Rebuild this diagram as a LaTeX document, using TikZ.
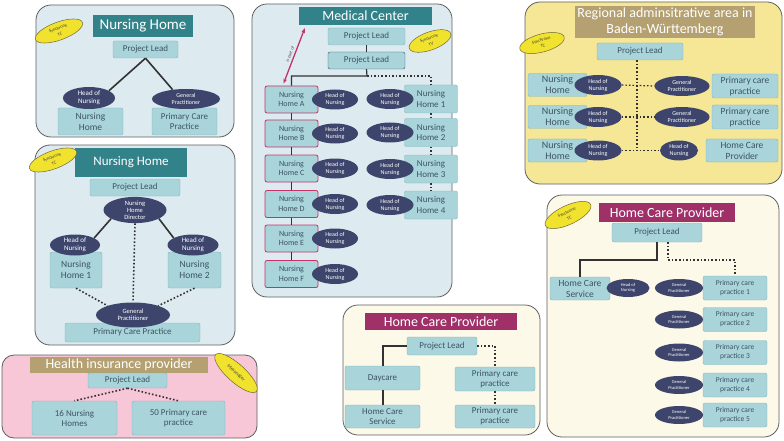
\documentclass[tikz,border=0pt]{standalone}
\usepackage{fontspec}
\setmainfont{Carlito}
\usetikzlibrary{shapes.geometric,arrows.meta}

\definecolor{panelblue}{RGB}{221,235,240}
\definecolor{pinkpanel}{RGB}{247,198,215}
\definecolor{yellowpanel}{RGB}{246,231,150}
\definecolor{creampanel}{RGB}{252,249,233}
\definecolor{panelline}{RGB}{95,95,95}
\definecolor{unitfill}{RGB}{168,212,218}
\definecolor{unitline}{RGB}{128,182,192}
\definecolor{unittext}{RGB}{62,84,100}
\definecolor{headfill}{RGB}{62,69,108}
\definecolor{tealbar}{RGB}{50,130,138}
\definecolor{tanbar}{RGB}{180,160,112}
\definecolor{magentabar}{RGB}{160,48,104}
\definecolor{syncfill}{RGB}{241,226,45}
\definecolor{syncline}{RGB}{110,104,60}
\definecolor{linkgray}{RGB}{50,50,50}
\definecolor{rosered}{RGB}{196,52,104}

\newcommand{\fsz}[2]{\fontsize{#1}{#2}\selectfont}

\begin{document}
\begin{tikzpicture}[x = 1pt, y = -1pt,
	panel/.style = {draw = panelline, line width = 0.8pt, rounded corners = 15pt},
	unitbox/.style = {draw = unitline, fill = unitfill, text = unittext, rounded corners = 2pt, align = center, inner sep = 0pt, font = \fsz{9}{10}},
	headoval/.style = {ellipse, fill = headfill, text = white, align = center, inner sep = 0pt, font = \fsz{6}{7}},
	titlebar/.style = {text = white, inner sep = 0pt, align = center, font = \fsz{14}{16}},
	syncoval/.style = {ellipse, draw = syncline, line width = 0.5pt, fill = syncfill, text = black!75, align = center, inner sep = 0pt, font = \fsz{4.5}{6}},
	solidlink/.style = {draw = linkgray, line width = 1.6pt},
	dotlink/.style = {draw = linkgray, line width = 1.6pt, dotted},
	partof/.style = {draw = rosered, line width = 1.3pt, {Stealth[length = 5pt]}-{Stealth[length = 5pt]}}]

	\fill[white] (0,0) rectangle (784,441);
	\useasboundingbox (0,0) rectangle (784,441);

	% Nursing Home (top)
	\draw[panel, fill = panelblue] (36,5) rectangle (234,137);
	\node[titlebar, fill = tealbar, minimum width = 100, minimum height = 22, font = \fsz{15}{16}] (nhTitle) at (143,26) {Nursing Home};
	\node[syncoval, minimum width = 50, minimum height = 18, rotate = 20] (nhSync) at (59,31) {Synchrone\\TC};
	\node[unitbox, minimum width = 65, minimum height = 17] (nhLead) at (145.5,49.5) {Project Lead};
	\node[unitbox, minimum width = 65, minimum height = 27, font = \fsz{9.5}{11}] (nhHome) at (90.5,121.5) {Nursing\\Home};
	\node[headoval, minimum width = 52, minimum height = 22, font = \fsz{7}{8}] (nhHead) at (89,98) {Head of\\Nursing};
	\node[unitbox, minimum width = 65, minimum height = 27] (nhPractice) at (184.5,121.5) {Primary Care\\Practice};
	\node[headoval, minimum width = 68, minimum height = 20] (nhGP) at (186,99) {General\\Practitioner};
	\draw[solidlink] (nhLead.south) -- (nhHead.20);
	\draw[solidlink] (nhLead.south) -- (nhGP.145);

	% Nursing Home (below)
	\draw[panel, fill = panelblue] (35,145) rectangle (235,345);
	\node[titlebar, fill = tealbar, minimum width = 112, minimum height = 29, font = \fsz{13}{15}] (ndTitle) at (131,162.5) {Nursing Home};
	\node[syncoval, minimum width = 50, minimum height = 18, rotate = 20] (ndSync) at (53,160) {Synchrone\\TC};
	\node[unitbox, minimum width = 90, minimum height = 17] (ndLead) at (135,187.5) {Project Lead};
	\node[headoval, minimum width = 63, minimum height = 26, font = \fsz{6.5}{7}] (ndDirector) at (135,210) {Nursing\\Home\\Director};
	\node[unitbox, minimum width = 52, minimum height = 36, font = \fsz{9.5}{11}] (ndHome1) at (76,270) {Nursing\\Home 1};
	\node[headoval, minimum width = 50, minimum height = 21, font = \fsz{7}{8}] (ndHead1) at (75,245) {Head of\\Nursing};
	\node[unitbox, minimum width = 53, minimum height = 36, font = \fsz{9.5}{11}] (ndHome2) at (194.5,270) {Nursing\\Home 2};
	\node[headoval, minimum width = 51, minimum height = 21, font = \fsz{7}{8}] (ndHead2) at (193,245) {Head of\\Nursing};
	\node[unitbox, minimum width = 135, minimum height = 19] (ndPractice) at (132.5,332.5) {Primary Care Practice};
	\node[headoval, minimum width = 74, minimum height = 25, font = \fsz{6.5}{7.5}] (ndGP) at (133,315) {General\\Practitioner};
	\draw[solidlink] (ndDirector.200) -- (ndHead1.20);
	\draw[solidlink] (ndDirector.340) -- (ndHead2.160);
	\draw[dotlink] (ndDirector.south) -- (ndGP.north);
	\draw[dotlink] (ndHome1.south) -- (ndGP.160);
	\draw[dotlink] (ndHome2.south) -- (ndGP.20);

	% Health insurance provider
	\draw[panel, fill = pinkpanel, rounded corners = 12pt] (2,355) rectangle (257,438);
	\node[titlebar, fill = tanbar, minimum width = 178, minimum height = 16] (hiTitle) at (119,365) {Health insurance provider};
	\node[syncoval, minimum width = 55, minimum height = 18, rotate = -42, font = \fsz{5}{6}] (hiSync) at (236,373) {Messenger};
	\node[unitbox, minimum width = 79, minimum height = 15] (hiLead) at (127.5,380.5) {Project Lead};
	\node[unitbox, minimum width = 85, minimum height = 34] (hiHomes) at (74.5,418) {16 Nursing\\Homes};
	\node[unitbox, minimum width = 93, minimum height = 34] (hiPractices) at (178.5,418) {50 Primary care\\practice};
	\draw[dotlink] (hiLead.south) -- (hiHomes.north);
	\draw[dotlink] (hiLead.south) -- (hiPractices.north);

	% Medical Center
	\draw[panel, fill = panelblue] (252,4) rectangle (452,297);
	\node[titlebar, fill = tealbar, minimum width = 133, minimum height = 18] (mcTitle) at (365.5,16) {Medical Center};
	\node[syncoval, minimum width = 44, minimum height = 18, rotate = 20] (mcSync) at (430,41) {Synchrone\\TV};
	\node[unitbox, minimum width = 77, minimum height = 17] (mcLead1) at (366.5,36.5) {Project Lead};
	\node[unitbox, draw = unittext, minimum width = 77, minimum height = 17] (mcLead2) at (366.5,60.5) {Project Lead};
	\coordinate (mcFork) at (367,76);
	\foreach \n/\y in {A/99.5, B/133.5, C/168.5, D/204, E/238.5, F/274} {
		\node[unitbox, draw = rosered, line width = 0.8pt, minimum width = 53, minimum height = 27, font = \fsz{8}{9.5}] (mcHome\n) at (291.5,\y) {Nursing\\Home \n};
		\node[headoval, minimum width = 46, minimum height = 20] (mcHead\n) at (335,\y) {Head of\\Nursing};
	}
	\foreach \n/\y in {1/99, 2/132.5, 3/169, 4/205} {
		\node[unitbox, minimum width = 53, minimum height = 28, font = \fsz{9}{10.5}] (mcUnit\n) at (431,\y) {Nursing\\Home \n};
		\node[headoval, minimum width = 47, minimum height = 20] (mcNurse\n) at (390,\y) {Head of\\Nursing};
	}
	\draw[solidlink, line width = 1.2pt] (mcLead1.south) -- (mcLead2.north);
	\draw[solidlink, line width = 1.2pt] (mcLead2.south) -- (mcFork) -| (mcHomeA.north);
	\draw[dotlink, line width = 1.2pt] (mcFork) -| (mcUnit1.north);
	\foreach \a/\b in {A/B, B/C, C/D, D/E, E/F}
		\draw[solidlink, line width = 1.2pt] (mcHome\a.south) -- (mcHome\b.north);
	\foreach \a/\b in {1/2, 2/3, 3/4}
		\draw[dotlink, line width = 1.2pt] (mcUnit\a.south) -- (mcUnit\b.north);
	\draw[partof] ([xshift = -8pt, yshift = 2pt]mcHomeA.north) -- ([xshift = 6pt, yshift = -3pt]mcTitle.south west)
		node[midway, sloped, above, inner sep = 1.5pt, text = black!70, font = \fsz{4.5}{5}] {is part of};

	% Regional administrative area
	\draw[panel, fill = yellowpanel] (525,2) rectangle (782,184);
	\node[titlebar, fill = tanbar, minimum width = 180, minimum height = 32] (rgTitle) at (665,22) {Regional adminsitrative area in\\Baden-Württemberg};
	\node[syncoval, minimum width = 46, minimum height = 18, rotate = 15] (rgSync) at (542,43) {Synchrone\\TC};
	\node[unitbox, minimum width = 86, minimum height = 17] (rgLead) at (640,51.5) {Project Lead};
	\foreach \i/\y in {1/85, 2/117, 3/150.5} {
		\node[unitbox, minimum width = 59, minimum height = 23, font = \fsz{10}{11}] (rgHome\i) at (557.5,\y) {Nursing\\Home};
		\node[headoval, minimum width = 47, minimum height = 20] (rgHead\i) at (598,\y) {Head of\\Nursing};
	}
	\foreach \i/\y in {1/86, 2/117} {
		\node[unitbox, minimum width = 66, minimum height = 24, font = \fsz{9.5}{11}] (rgPractice\i) at (745,\y) {Primary care\\practice};
		\node[headoval, minimum width = 55, minimum height = 20] (rgPartner\i) at (682,\y) {General\\Practitioner};
	}
	\node[unitbox, minimum width = 72, minimum height = 23, font = \fsz{9.5}{11}] (rgProvider) at (742,150.5) {Home Care\\Provider};
	\node[headoval, minimum width = 38, minimum height = 20] (rgPartner3) at (679,150.5) {Head of\\Nursing};
	\draw[dotlink, line width = 1.2pt] ([xshift = -3pt]rgLead.south) -- ([xshift = -3pt]rgLead.south |- rgHead3.east);
	\foreach \i in {1,2,3}
		\draw[dotlink, line width = 1.2pt] (rgHead\i.east) -- (rgPartner\i.west);

	% Home Care Provider (right)
	\draw[panel, fill = creampanel] (547,195) rectangle (779,437);
	\node[titlebar, fill = magentabar, minimum width = 136, minimum height = 19] (hcTitle) at (667,212.5) {Home Care Provider};
	\node[syncoval, minimum width = 50, minimum height = 19, rotate = 25] (hcSync) at (568,215) {Synchrone\\TC};
	\node[unitbox, minimum width = 90, minimum height = 19] (hcLead) at (657,232.5) {Project Lead};
	\node[unitbox, minimum width = 60, minimum height = 23, font = \fsz{9.5}{11}] (hcService) at (580,288.5) {Home Care\\Service};
	\node[headoval, minimum width = 43, minimum height = 18, font = \fsz{4.5}{5.5}] (hcHead) at (628,288) {Head of\\Nursing};
	\foreach \i/\y in {1/288, 2/319.5, 3/352.5, 4/385, 5/415} {
		\node[unitbox, minimum width = 64, minimum height = 24, font = \fsz{7.5}{9}] (hcPractice\i) at (735,\y) {Primary care\\practice \i};
		\node[headoval, minimum width = 48, minimum height = 18, font = \fsz{4.5}{5.5}] (hcGP\i) at (679,\y) {General\\Practitioner};
	}
	\coordinate (hcFork) at (657,260);
	\coordinate (hcDotFork) at (668,260);
	\draw[solidlink, line width = 2pt] (hcLead.south) -- (hcFork) -| (hcService.north);
	\draw[dotlink, line width = 2pt] ([xshift = 11pt]hcLead.south) -- (hcDotFork) -| (hcPractice1.north);

	% Home Care Provider (middle)
	\draw[panel, fill = creampanel] (343,305) rectangle (540,435);
	\node[titlebar, fill = magentabar, minimum width = 152, minimum height = 17] (dcTitle) at (441,321.5) {Home Care Provider};
	\node[unitbox, minimum width = 70, minimum height = 18] (dcLead) at (442,346) {Project Lead};
	\node[unitbox, minimum width = 75, minimum height = 24] (dcDay) at (382.5,378) {Daycare};
	\node[unitbox, minimum width = 75, minimum height = 23] (dcService) at (382.5,416.5) {Home Care\\Service};
	\node[unitbox, minimum width = 80, minimum height = 24] (dcPractice1) at (495,379) {Primary care\\practice};
	\node[unitbox, minimum width = 80, minimum height = 23] (dcPractice2) at (495,416.5) {Primary care\\practice};
	\draw[solidlink, line width = 2pt] (dcLead.west) -| (dcDay.north);
	\draw[solidlink, line width = 2pt] (dcDay.south) -- (dcService.north);
	\draw[dotlink, line width = 2pt] (dcLead.east) -| (dcPractice1.north);
	\draw[dotlink, line width = 2pt] (dcPractice1.south) -- (dcPractice2.north);
\end{tikzpicture}
\end{document}
